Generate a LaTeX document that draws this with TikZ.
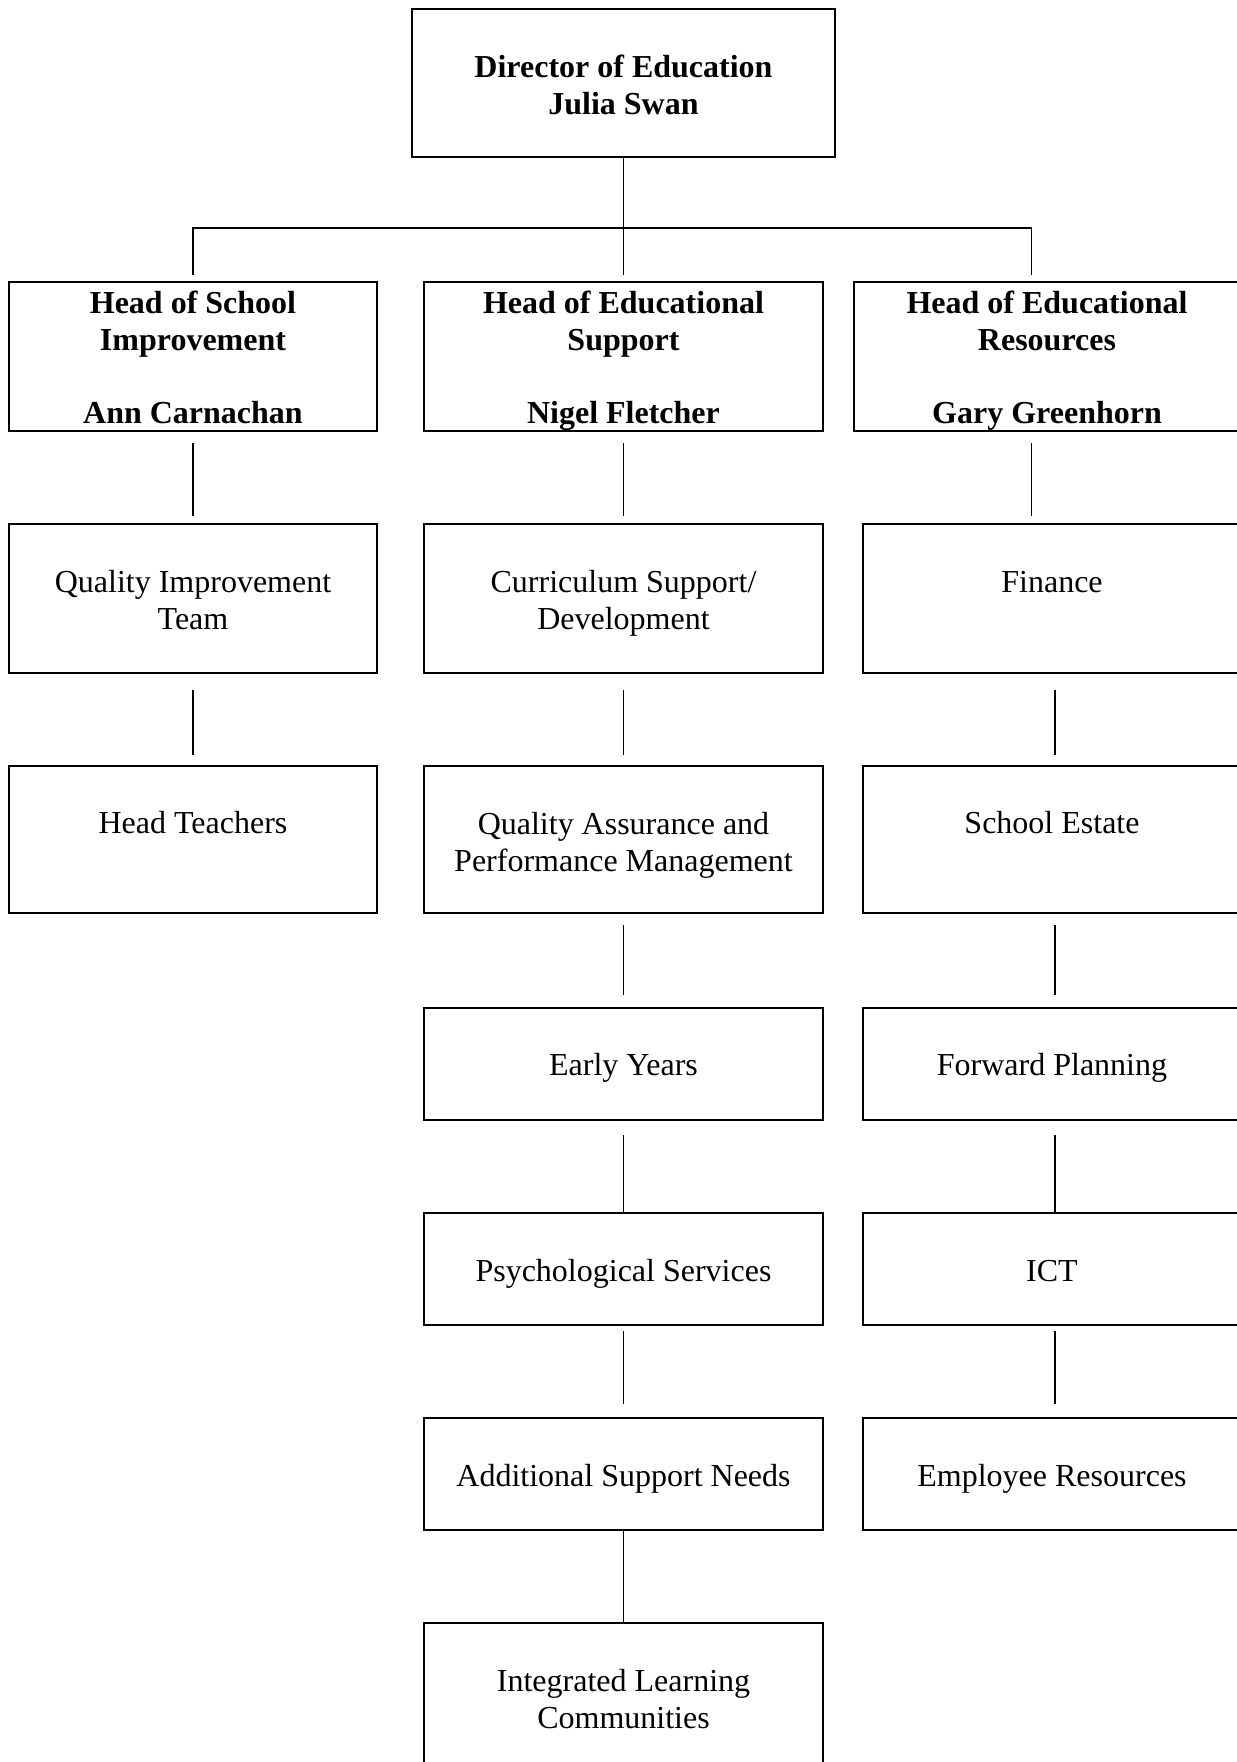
\documentclass[tikz,border=0pt]{standalone}
\usepackage{fontspec}
\setmainfont{Liberation Serif}
\usetikzlibrary{fit}
\begin{document}
\begin{tikzpicture}[x=0.5pt,y=-0.5pt,
  box/.style={draw,line width=0.8pt,inner sep=0pt},
  txt/.style={inner sep=0pt,align=center,yshift=-1.8pt,
    font=\fontsize{16pt}{18.5pt}\selectfont,
    execute at begin node=\strut,execute at end node=\strut},
  btxt/.style={txt,font=\fontsize{16pt}{18.5pt}\selectfont\bfseries},
  conn/.style={line width=0.6pt}]
\useasboundingbox (0,0) rectangle (1237,1762);
% boxes
\node[box,fit={(412,9)(835,157)}] (dir) {};
\node[box,fit={(9,282)(377,431)}] (hL) {};
\node[box,fit={(424,282)(823,431)}] (hM) {};
\node[box,fit={(854,282)(1241,431)}] (hR) {};
\node[box,fit={(9,524)(377,673)}] (qit) {};
\node[box,fit={(424,524)(823,673)}] (csd) {};
\node[box,fit={(863,524)(1241,673)}] (fin) {};
\node[box,fit={(9,766)(377,913)}] (ht) {};
\node[box,fit={(424,766)(823,913)}] (qapm) {};
\node[box,fit={(863,766)(1241,913)}] (se) {};
\node[box,fit={(424,1008)(823,1120)}] (ey) {};
\node[box,fit={(863,1008)(1241,1120)}] (fp) {};
\node[box,fit={(424,1213)(823,1325)}] (ps) {};
\node[box,fit={(863,1213)(1241,1325)}] (ict) {};
\node[box,fit={(424,1418)(823,1530)}] (asn) {};
\node[box,fit={(863,1418)(1241,1530)}] (er) {};
\node[box,fit={(424,1623)(823,1800)}] (ilc) {};
% texts
\node[btxt] (dirT) at (623.5,86.5) {Director of Education\\Julia Swan};
\node[btxt] (hLT) at (193,359) {Head of School\\Improvement\\[18pt]Ann Carnachan};
\node[btxt] (hMT) at (623.5,359) {Head of Educational\\Support\\[18pt]Nigel Fletcher};
\node[btxt] (hRT) at (1047,359) {Head of Educational\\Resources\\[18pt]Gary Greenhorn};
\node[txt] (qitT) at (193,601.5) {Quality Improvement\\Team};
\node[txt] (csdT) at (623.5,601.5) {Curriculum Support/\\Development};
\node[txt] (finT) at (1052,581) {Finance};
\node[txt] (htT) at (193,822) {Head Teachers};
\node[txt] (qapmT) at (623.5,843.5) {Quality Assurance and\\Performance Management};
\node[txt] (seT) at (1052,822) {School Estate};
\node[txt] (eyT) at (623.5,1064) {Early Years};
\node[txt] (fpT) at (1052,1064) {Forward Planning};
\node[txt] (psT) at (623.5,1270) {Psychological Services};
\node[txt] (ictT) at (1052,1270) {ICT};
\node[txt] (asnT) at (623.5,1475) {Additional Support Needs};
\node[txt] (erT) at (1052,1475) {Employee Resources};
\node[txt] (ilcT) at (623.5,1701) {Integrated Learning\\Communities};
% connectors
\coordinate (bus) at (623.5,228);
\coordinate (hRn) at ([xshift=-8pt]hR.north);
\coordinate (hRs) at ([xshift=-8pt]hR.south);
\draw[conn,shorten >=3pt] (dir.south) -- (hM.north);
\draw[conn] ([yshift=3pt]hL.north) |- (bus) -| ([yshift=3pt]hRn);
\draw[conn,shorten <=5.5pt,shorten >=3.5pt] (hL.south) -- (qit.north);
\draw[conn,shorten <=5.5pt,shorten >=3.5pt] (hM.south) -- (csd.north);
\draw[conn,shorten <=5.5pt,shorten >=3.5pt] (hRs) -- (hRs |- fin.north);
\draw[conn,shorten <=8pt,shorten >=5pt] (qit.south) -- (ht.north);
\draw[conn,shorten <=8pt,shorten >=5pt] (csd.south) -- (qapm.north);
\draw[conn,shorten <=8pt,shorten >=5pt] ([xshift=1.5pt]fin.south) -- ([xshift=1.5pt]se.north);
\draw[conn,shorten <=5.5pt,shorten >=6pt] (qapm.south) -- (ey.north);
\draw[conn,shorten <=5.5pt,shorten >=6pt] ([xshift=1.5pt]se.south) -- ([xshift=1.5pt]fp.north);
\draw[conn,shorten <=7pt] (ey.south) -- (ps.north);
\draw[conn,shorten <=7pt] ([xshift=1.5pt]fp.south) -- ([xshift=1.5pt]ict.north);
\draw[conn,shorten <=2.5pt,shorten >=6.5pt] (ps.south) -- (asn.north);
\draw[conn,shorten <=2.5pt,shorten >=6.5pt] ([xshift=1.5pt]ict.south) -- ([xshift=1.5pt]er.north);
\draw[conn] (asn.south) -- (ilc.north);
\end{tikzpicture}
\end{document}
